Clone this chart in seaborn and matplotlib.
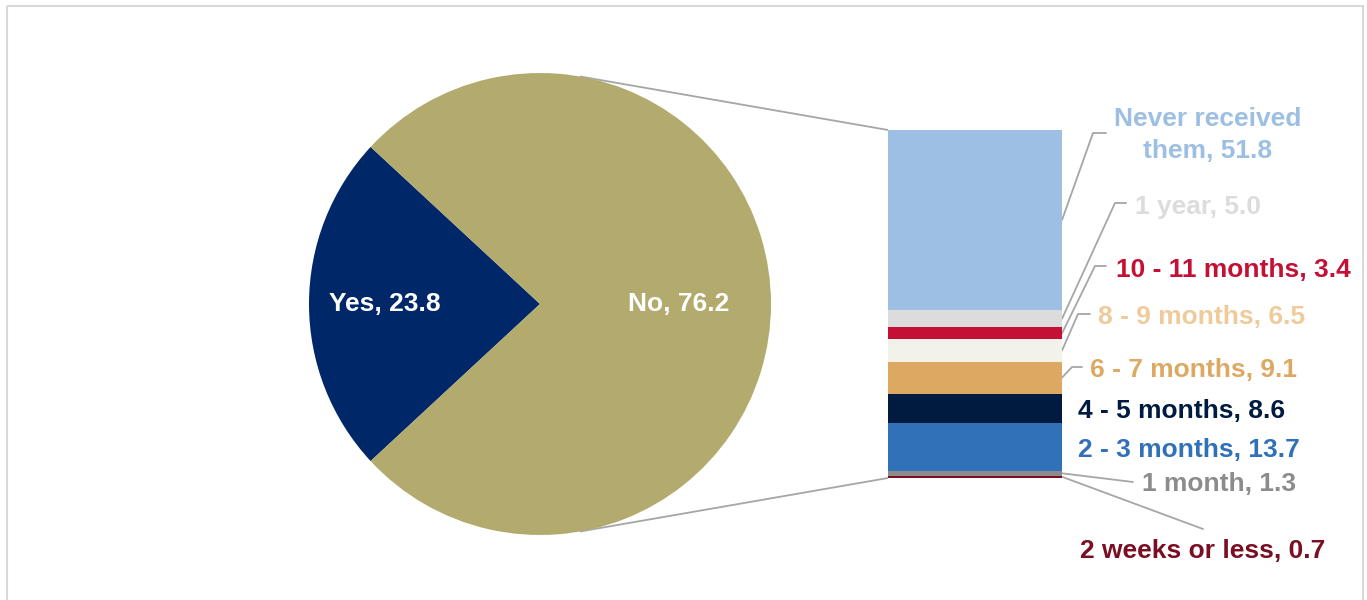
import numpy as np
import matplotlib
matplotlib.use("Agg")
import matplotlib.pyplot as plt
import seaborn as sns

# Pie: did respondents receive them?
pie_labels = ["Yes", "No"]
pie_values = [23.8, 76.2]
pie_colors = ["#002868", "#B3AA6E"]

# Breakdown of "No" (stacked from bottom to top)
bar_labels = ["2 weeks or less", "1 month", "2 - 3 months", "4 - 5 months",
              "6 - 7 months", "8 - 9 months", "10 - 11 months", "1 year",
              "Never received\nthem"]
bar_values = [0.7, 1.3, 13.7, 8.6, 9.1, 6.5, 3.4, 5.0, 51.8]
bar_colors = ["#7A0E23", "#8C8C8C", "#3171B7", "#001A40", "#DCA862",
              "#F3F2EA", "#C41035", "#DCDCDC", "#9DBFE3"]
text_colors = ["#7A0E23", "#8C8C8C", "#3171B7", "#001A40", "#DCA862",
               "#EFCB9C", "#C41035", "#DCDCDC", "#9DBFE3"]

# Label layout (pixel centres) and leader-line elbows (None = no leader)
label_xy = [(1203, 551), (1219, 484), (1189, 450), (1182, 411), (1194, 370),
            (1202, 317), (1233, 270), (1198, 207), (1208, 135)]
leader_pts = [[(1203, 529)], [(1133, 482)], None, None,
              [(1072, 367), (1082, 367)], [(1078, 314), (1090, 314)],
              [(1095, 266), (1106, 266)], [(1115, 203), (1126, 203)],
              [(1093, 133), (1106, 133)]]

sns.set_theme(style="white")
plt.rcParams["font.family"] = ["Liberation Sans", "DejaVu Sans"]

W, H = 1367, 600
fig = plt.figure(figsize=(W / 100, H / 100), dpi=100)

# Overlay axes in pixel coordinates for connectors, leaders, labels, frame
ov = fig.add_axes([0, 0, 1, 1], zorder=0)
ov.set_xlim(0, W)
ov.set_ylim(H, 0)
ov.axis("off")

# Pie
cx, cy, R = 540, 304, 231
axp = fig.add_axes([(cx - R) / W, (H - cy - R) / H, 2 * R / W, 2 * R / H], zorder=2)
start = 180 - pie_values[0] / sum(pie_values) * 360 / 2
wedges, _ = axp.pie(pie_values, colors=pie_colors, startangle=start,
                    counterclock=True, radius=1, frame=False,
                    wedgeprops=dict(linewidth=0))
axp.set_xlim(-1, 1)
axp.set_ylim(-1, 1)
axp.axis("off")
for w, lab, val, rf in zip(wedges, pie_labels, pie_values, [0.67, 0.60]):
    mid = np.deg2rad((w.theta1 + w.theta2) / 2)
    axp.text(rf * np.cos(mid), rf * np.sin(mid), f"{lab}, {val:.1f}",
             ha="center", va="center", color="white", fontsize=19,
             fontweight="bold")

# Stacked bar
bx0, bx1, by0, by1 = 888, 1062, 130, 478
axb = fig.add_axes([bx0 / W, (H - by1) / H, (bx1 - bx0) / W, (by1 - by0) / H], zorder=2)
bottoms = np.concatenate([[0], np.cumsum(bar_values)[:-1]])
axb.bar(0, bar_values, bottom=bottoms, width=1, color=bar_colors, linewidth=0)
axb.set_xlim(-0.5, 0.5)
axb.set_ylim(0, sum(bar_values))
axb.axis("off")

to_px = lambda ax, x, y: ov.transData.inverted().transform(ax.transData.transform((x, y)))

# Connectors from the pie to the bar
line_col = "#A6A6A6"
top_l = to_px(axb, -0.5, sum(bar_values))
bot_l = to_px(axb, -0.5, 0)
for ang, end in [(80, top_l), (-80, bot_l)]:
    p = to_px(axp, np.cos(np.deg2rad(ang)), np.sin(np.deg2rad(ang)))
    ov.plot([p[0], end[0]], [p[1], end[1]], color=line_col, lw=1.3,
            solid_capstyle="butt")

# Segment labels with leader lines
for lab, val, col, b, xy, pts in zip(bar_labels, bar_values, text_colors,
                                      bottoms, label_xy, leader_pts):
    if pts is not None:
        a = to_px(axb, 0.5, b + val / 2)
        xs = [a[0]] + [q[0] for q in pts]
        ys = [a[1]] + [q[1] for q in pts]
        ov.plot(xs, ys, color=line_col, lw=1.3, zorder=3)
    ov.text(xy[0], xy[1], f"{lab}, {val:.1f}", ha="center", va="center",
            color=col, fontsize=19, fontweight="bold", linespacing=1.45,
            zorder=4)

# Outer frame
ov.add_patch(plt.Rectangle((6.5, 5.5), 1356, 620, fill=False,
                           edgecolor="#D9D9D9", lw=1.5, clip_on=False))

fig.savefig("out.png", dpi=100)
